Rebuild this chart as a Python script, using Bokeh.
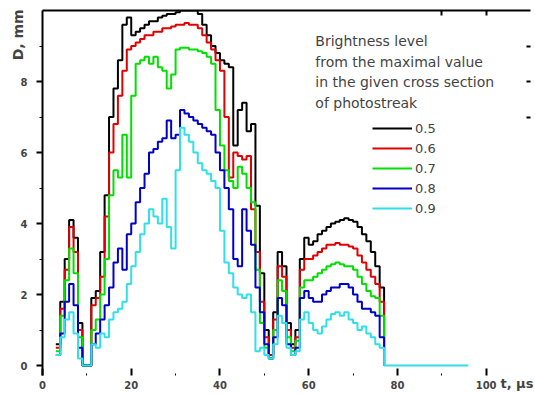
from bokeh.plotting import figure
from bokeh.models import (FixedTicker, LinearAxis, Label, Legend, LegendItem, Range1d)
from bokeh.embed import file_html
from bokeh.resources import INLINE

# time samples, microseconds
t = list(range(3, 78))

lvl_05 = [0.6, 1.8, 3.0, 4.1, 3.6, 1.2, 0.0, 0.0, 1.9, 2.1, 3.2, 4.8, 7.0, 7.8, 8.6, 9.6, 9.8, 9.3,
          9.4, 9.5, 9.6, 9.7, 9.7, 9.8, 9.85, 9.9, 9.9, 9.95, 10.0, 10.0, 10.0, 10.0, 9.9, 9.6,
          9.3, 9.0, 8.8, 8.6, 8.5, 8.4, 6.2, 7.2, 7.4, 6.6, 6.8, 4.5, 2.6, 1.0, 0.3, 1.5, 3.2,
          2.8, 1.2, 0.6, 1.0, 3.0, 3.6, 3.4, 3.5, 3.7, 3.8, 3.9, 4.0, 4.05, 4.1, 4.15, 4.1,
          4.05, 3.9, 3.7, 3.5, 3.2, 2.8, 2.2, 0.0]
lvl_06 = [0.5, 1.6, 2.7, 3.9, 3.2, 1.0, 0.0, 0.0, 1.7, 1.9, 2.5, 4.2, 6.0, 6.8, 7.6, 8.3, 8.9, 9.0,
          9.1, 9.2, 9.3, 9.3, 9.4, 9.4, 9.5, 9.5, 9.55, 9.6, 9.6, 9.65, 9.6, 9.6, 9.5, 9.3,
          9.1, 8.9, 8.6, 8.3, 7.0, 5.3, 6.0, 5.9, 5.8, 5.9, 4.4, 3.2, 1.8, 0.8, 0.3, 1.3, 2.8,
          2.5, 1.0, 0.5, 0.8, 2.7, 3.0, 3.0, 3.1, 3.2, 3.3, 3.4, 3.4, 3.45, 3.4, 3.4, 3.35,
          3.3, 3.1, 2.9, 2.7, 2.5, 2.3, 1.8, 0.0]
lvl_07 = [0.4, 1.4, 2.4, 3.3, 2.6, 0.8, 0.0, 0.0, 1.0, 1.3, 2.0, 3.0, 4.8, 5.5, 5.3, 6.5, 5.3, 7.6,
          8.5, 8.6, 8.7, 8.5, 8.7, 8.4, 8.3, 7.8, 8.2, 8.9, 8.95, 8.95, 8.9, 8.9, 8.85, 8.8,
          8.7, 8.5, 7.2, 6.2, 5.5, 5.2, 5.0, 5.6, 5.4, 5.0, 4.6, 2.7, 1.2, 0.5, 0.2, 1.0, 2.4,
          2.1, 0.8, 0.4, 0.7, 2.2, 2.4, 2.4, 2.5, 2.6, 2.7, 2.8, 2.85, 2.9, 2.85, 2.8, 2.8,
          2.7, 2.5, 2.3, 2.1, 1.95, 1.9, 1.4, 0.0]
lvl_08 = [0.3, 0.9, 1.8, 2.3, 1.7, 0.5, 0.0, 0.0, 0.6, 0.9, 1.3, 1.7, 2.2, 2.9, 3.3, 2.7, 3.7, 4.0,
          4.6, 5.0, 5.4, 6.0, 6.1, 6.3, 6.4, 6.9, 6.4, 6.5, 7.2, 7.1, 7.0, 6.9, 6.8, 6.7,
          6.6, 6.5, 6.0, 5.5, 5.0, 4.4, 3.0, 2.8, 4.4, 3.8, 3.4, 2.2, 1.5, 0.6, 0.2, 0.8, 1.9,
          1.7, 0.6, 0.3, 0.5, 1.9, 2.1, 1.9, 1.8, 1.8, 2.0, 2.1, 2.2, 2.2, 2.3, 2.3, 2.2,
          2.0, 1.8, 1.6, 1.6, 1.5, 1.4, 0.8, 0.0]
lvl_09 = [0.3, 0.8, 1.3, 1.5, 0.9, 0.2, 0.0, 0.0, 0.6, 0.5, 0.9, 0.8, 1.3, 1.5, 1.6, 1.8, 2.3, 2.8,
          3.2, 3.7, 4.0, 4.4, 4.2, 4.0, 4.7, 3.9, 3.3, 5.5, 6.7, 6.5, 6.3, 6.0, 5.7, 5.5,
          5.4, 5.2, 5.0, 3.8, 2.9, 2.6, 2.2, 2.0, 1.9, 2.0, 1.5, 0.4, 0.5, 0.3, 0.2, 0.6, 1.4,
          1.2, 0.5, 0.3, 0.4, 1.3, 1.5, 1.2, 1.0, 0.9, 1.1, 1.3, 1.45, 1.5, 1.4, 1.5, 1.3,
          1.2, 1.0, 1.1, 0.9, 0.8, 0.6, 0.5, 0.0]
tail_t = [96]
tail_v = [0.0]

levels = ["0.5", "0.6", "0.7", "0.8", "0.9"]
colors = ["#000000", "#e00000", "#00e000", "#0000c8", "#30e0e8"]
header = ["Brightness level", "from the maximal value", "in the given cross section", "of photostreak"]
y_title = "D, mm"
x_title = "t, µs"

x_ticks = [0, 20, 40, 60, 80, 100]
x_minor = [10, 30, 50, 70, 90]
x_top = [90, 100]
y_ticks = [0, 2, 4, 6, 8]
y_minor = [1, 3, 5, 7, 9]
y_right = [7, 8, 9]

FONT = "DejaVu Sans"
NBSP = "\u00a0"

p = figure(width=535, height=395, output_backend="svg", toolbar_location=None,
           x_range=Range1d(0, 110), y_range=Range1d(-0.28, 10.0),
           min_border_left=42, min_border_right=5, min_border_top=10, min_border_bottom=20,
           x_axis_location=None, y_axis_location=None)
p.outline_line_color = None
p.xgrid.visible = False
p.ygrid.visible = False
p.background_fill_color = "white"
p.border_fill_color = "white"

# axes
left = LinearAxis(ticker=FixedTicker(ticks=y_ticks, minor_ticks=y_minor))
left.axis_line_width = 2
left.major_tick_in = 0
left.major_tick_out = 6
left.minor_tick_in = 0
left.minor_tick_out = 3
left.major_tick_line_width = 2
left.major_label_text_font = FONT
left.major_label_text_font_size = "10px"
left.major_label_text_font_style = "bold"
left.major_label_standoff = 9
# the axis title sits at the top end of the axis; the trailing blanks shift it below the end
left.axis_label = y_title + NBSP * 10
left.axis_label_align = "end"
left.axis_label_standoff = -8
left.axis_label_text_font = FONT
left.axis_label_text_font_size = "14px"
left.axis_label_text_font_style = "bold"
p.add_layout(left, "left")

bottom = LinearAxis(ticker=FixedTicker(ticks=x_ticks, minor_ticks=x_minor))
bottom.axis_line_alpha = 0
bottom.major_tick_in = 7
bottom.major_tick_out = 0
bottom.minor_tick_in = 2
bottom.minor_tick_out = 0
bottom.major_tick_line_width = 2
bottom.major_label_text_font = FONT
bottom.major_label_text_font_size = "10px"
bottom.major_label_text_font_style = "bold"
bottom.major_label_standoff = 5
bottom.axis_label = x_title + NBSP * 6
bottom.axis_label_align = "end"
bottom.axis_label_standoff = -16
bottom.axis_label_text_font = FONT
bottom.axis_label_text_font_size = "13px"
bottom.axis_label_text_font_style = "bold"
p.add_layout(bottom, "below")

top = LinearAxis(ticker=FixedTicker(ticks=[], minor_ticks=x_top))
top.axis_line_width = 2
top.major_tick_in = 0
top.major_tick_out = 0
top.minor_tick_in = 5
top.minor_tick_out = 0
top.minor_tick_line_width = 2
top.major_label_standoff = 0
p.add_layout(top, "above")

right = LinearAxis(ticker=FixedTicker(ticks=[], minor_ticks=y_right))
right.axis_line_alpha = 0
right.major_tick_in = 0
right.major_tick_out = 0
right.minor_tick_in = 4
right.minor_tick_out = 0
right.minor_tick_line_width = 2
right.major_label_standoff = 0
p.add_layout(right, "right")

series = [lvl_05, lvl_06, lvl_07, lvl_08, lvl_09]
renderers = []
for i, (vals, col) in enumerate(zip(series, colors)):
    xs = t + tail_t if i == 4 else t
    ys = vals + tail_v if i == 4 else vals
    r = p.step(xs, ys, mode="after", line_color=col, line_width=2)
    renderers.append(r)

legend = Legend(items=[LegendItem(label=lab, renderers=[r]) for lab, r in zip(levels, renderers)],
                location=(330, 157))
legend.glyph_width = 40
legend.glyph_height = 20
legend.label_height = 20
legend.spacing = 0
legend.padding = 0
legend.margin = 0
legend.label_standoff = 3
legend.border_line_alpha = 0
legend.background_fill_alpha = 0
legend.label_text_font = FONT
legend.label_text_font_size = "13px"
p.add_layout(legend, "center")

for k, line in enumerate(header):
    p.add_layout(Label(x=61.5, y=9.13 - 0.575 * k, text=line, text_font=FONT,
                       text_font_size="14px",
                       text_baseline="middle", text_align="left"))

open("out.html", "w").write(file_html(p, INLINE))
